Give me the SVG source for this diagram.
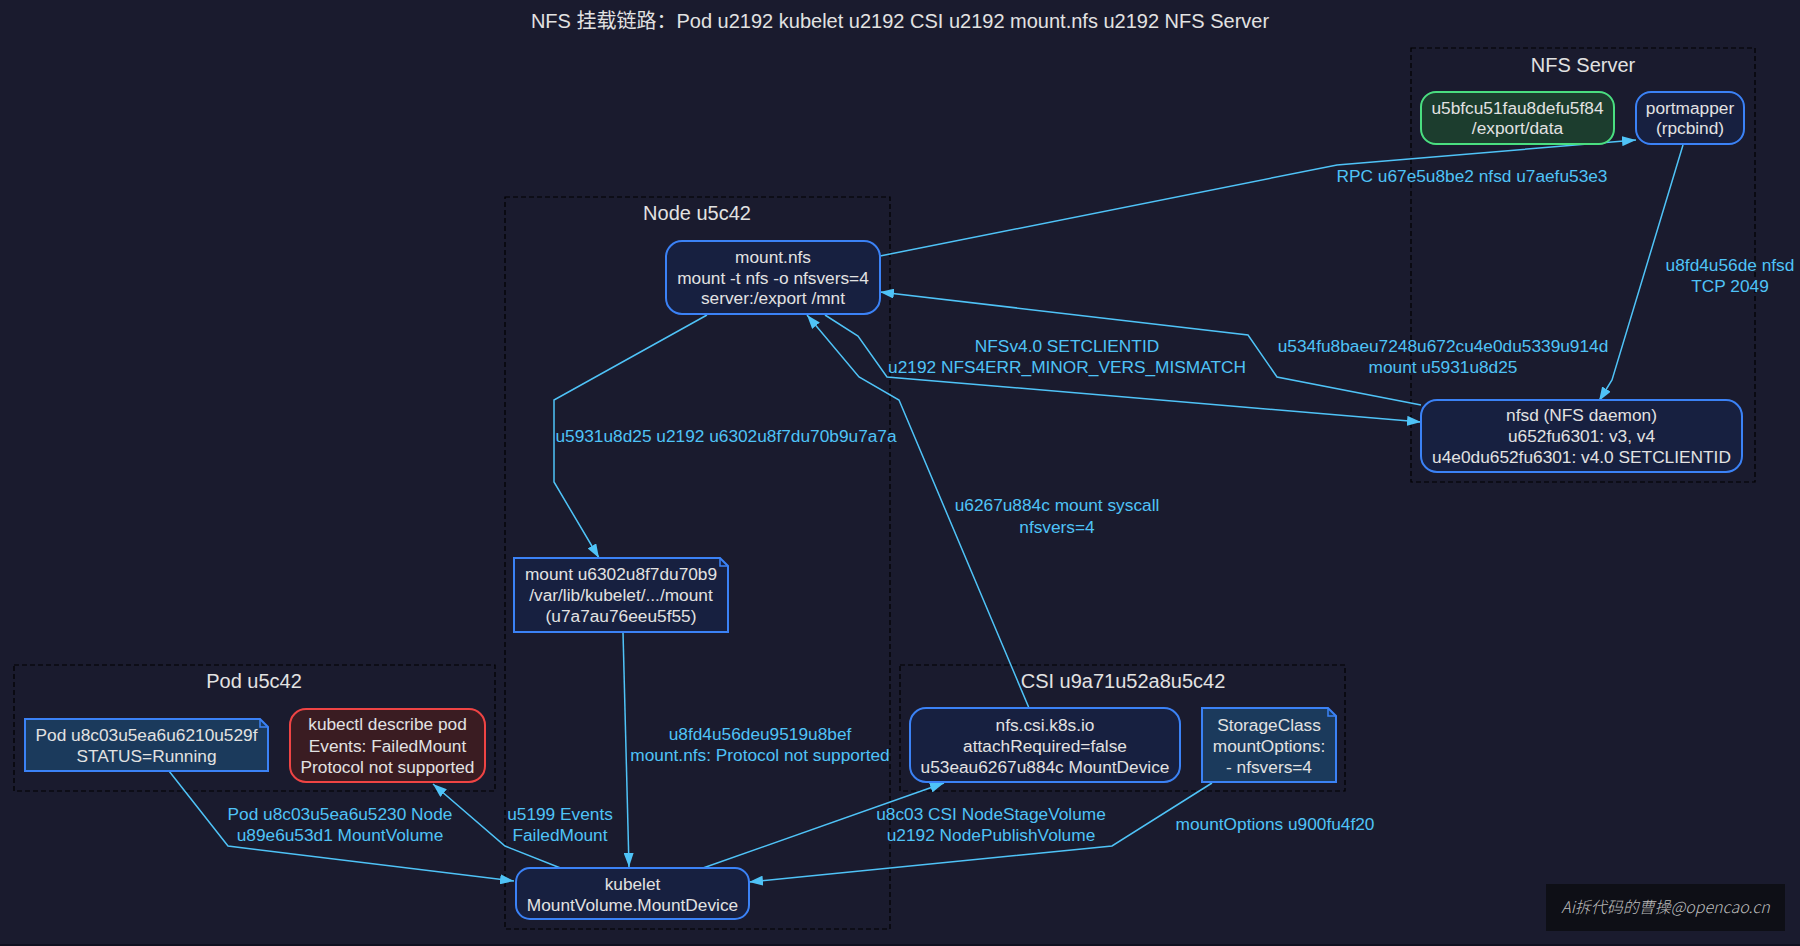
<svg xmlns="http://www.w3.org/2000/svg" width="1800" height="946" viewBox="0 0 1800 946">
<defs>
<marker id="arr" markerUnits="userSpaceOnUse" markerWidth="14" markerHeight="10" refX="14" refY="5" orient="auto">
<path d="M0,0 L14,5 L0,10 z" fill="#4fc3f7"/>
</marker>
<style>
.t{font-family:"Liberation Sans","Noto Sans CJK SC",sans-serif;font-size:17.3px;fill:#e2e2e2;text-anchor:middle}
.cl{font-family:"Liberation Sans","Noto Sans CJK SC",sans-serif;font-size:20px;fill:#e2e2e2;text-anchor:middle}
.el{font-family:"Liberation Sans","Noto Sans CJK SC",sans-serif;font-size:17.3px;fill:#4fc3f7;text-anchor:middle}
.cluster{fill:none;stroke:#000;stroke-width:1.2;stroke-dasharray:5,3}
.blue{fill:#172040;stroke:#3b82f6;stroke-width:2}
.note{fill:#1b3a5c;stroke:#3b82f6;stroke-width:2}
.notedk{fill:#172040;stroke:#3b82f6;stroke-width:2}
.fold{fill:none;stroke:#3b82f6;stroke-width:1.5}
.e{fill:none;stroke:#4fc3f7;stroke-width:1.5;marker-end:url(#arr)}
</style>
</defs>
<rect x="0" y="0" width="1800" height="946" fill="#1a1b2e"/>
<rect x="0" y="944" width="1800" height="2" fill="#0f1020"/>
<text x="900" y="28" class="cl">NFS 挂载链路：Pod u2192 kubelet u2192 CSI u2192 mount.nfs u2192 NFS Server</text>

<g id="cluster_nfs">
<rect x="1411" y="48" width="344" height="434" class="cluster"/>
<text x="1583" y="72" class="cl">NFS Server</text>
</g>
<g id="cluster_node">
<rect x="505" y="197" width="385" height="732" class="cluster"/>
<text x="697" y="220" class="cl">Node u5c42</text>
</g>
<g id="cluster_pod">
<rect x="14" y="665" width="481" height="126" class="cluster"/>
<text x="254" y="688" class="cl">Pod u5c42</text>
</g>
<g id="cluster_csi">
<rect x="900" y="665" width="445" height="126" class="cluster"/>
<text x="1123" y="688" class="cl">CSI u9a71u52a8u5c42</text>
</g>

<g id="connectors">
<path class="e" d="M169,771 L228,846 L514,881"/>
<path class="e" d="M563,869 L505,846 L433,784"/>
<path class="e" d="M707,315 L554,400 L554,482 L599,558"/>
<path class="e" d="M623,632 L629,867"/>
<path class="e" d="M703,868 L944,783"/>
<path class="e" d="M1212,783 L1112,846 L749,882"/>
<path class="e" d="M1029,708 L899,400 L859,377 L807,315"/>
<path class="e" d="M880,256 L1337,165 L1636,140"/>
<path class="e" d="M1683,145 L1612,380 L1599,401"/>
<path class="e" d="M825,315 L858,336 L887,377 L1421,422"/>
<path class="e" d="M1421,405 L1277,377 L1248,335 L880,292"/>
<text class="el" x="1472" y="182">RPC u67e5u8be2 nfsd u7aefu53e3</text>
<text class="el" x="1730" y="271">u8fd4u56de nfsd</text>
<text class="el" x="1730" y="292">TCP 2049</text>
<text class="el" x="1067" y="352">NFSv4.0 SETCLIENTID</text>
<text class="el" x="1067" y="373">u2192 NFS4ERR_MINOR_VERS_MISMATCH</text>
<text class="el" x="1443" y="352">u534fu8baeu7248u672cu4e0du5339u914d</text>
<text class="el" x="1443" y="373">mount u5931u8d25</text>
<text class="el" x="726" y="442">u5931u8d25 u2192 u6302u8f7du70b9u7a7a</text>
<text class="el" x="1057" y="511">u6267u884c mount syscall</text>
<text class="el" x="1057" y="533">nfsvers=4</text>
<text class="el" x="760" y="740">u8fd4u56deu9519u8bef</text>
<text class="el" x="760" y="761">mount.nfs: Protocol not supported</text>
<text class="el" x="340" y="820">Pod u8c03u5ea6u5230 Node</text>
<text class="el" x="340" y="841">u89e6u53d1 MountVolume</text>
<text class="el" x="560" y="820">u5199 Events</text>
<text class="el" x="560" y="841">FailedMount</text>
<text class="el" x="991" y="820">u8c03 CSI NodeStageVolume</text>
<text class="el" x="991" y="841">u2192 NodePublishVolume</text>
<text class="el" x="1275" y="830">mountOptions u900fu4f20</text>
</g>

<g id="export">
<rect x="1421" y="92" width="193" height="52" rx="15" fill="#1c3d2e" stroke="#4ade80" stroke-width="2"/>
<text class="t" x="1517.5" y="114">u5bfcu51fau8defu5f84</text>
<text class="t" x="1517.5" y="134">/export/data</text>
</g>
<g id="portmapper">
<rect x="1636" y="92" width="108" height="52" rx="15" class="blue"/>
<text class="t" x="1690" y="114">portmapper</text>
<text class="t" x="1690" y="134">(rpcbind)</text>
</g>
<g id="nfsd">
<rect x="1421" y="400" width="321" height="72" rx="16" class="blue"/>
<text class="t" x="1581.5" y="421">nfsd (NFS daemon)</text>
<text class="t" x="1581.5" y="442">u652fu6301: v3, v4</text>
<text class="t" x="1581.5" y="463">u4e0du652fu6301: v4.0 SETCLIENTID</text>
</g>
<g id="mountnfs">
<rect x="666" y="241" width="214" height="73" rx="16" class="blue"/>
<text class="t" x="773" y="263">mount.nfs</text>
<text class="t" x="773" y="284">mount -t nfs -o nfsvers=4</text>
<text class="t" x="773" y="304">server:/export /mnt</text>
</g>
<g id="mountpoint">
<path d="M514,558 H720 L728,566 V632 H514 Z" class="notedk"/>
<path d="M720,558 V566 H728" class="fold"/>
<text class="t" x="621" y="580">mount u6302u8f7du70b9</text>
<text class="t" x="621" y="601">/var/lib/kubelet/.../mount</text>
<text class="t" x="621" y="622">(u7a7au76eeu5f55)</text>
</g>
<g id="kubelet">
<rect x="516" y="868" width="233" height="51" rx="14" class="blue"/>
<text class="t" x="632.5" y="890">kubelet</text>
<text class="t" x="632.5" y="911">MountVolume.MountDevice</text>
</g>
<g id="podstatus">
<path d="M25,719 H260 L268,727 V771 H25 Z" class="note"/>
<path d="M260,719 V727 H268" class="fold"/>
<text class="t" x="146.5" y="741">Pod u8c03u5ea6u6210u529f</text>
<text class="t" x="146.5" y="762">STATUS=Running</text>
</g>
<g id="kubectl">
<rect x="290" y="709" width="195" height="73" rx="16" fill="#3a1c22" stroke="#ef4444" stroke-width="2"/>
<text class="t" x="387.5" y="730">kubectl describe pod</text>
<text class="t" x="387.5" y="752">Events: FailedMount</text>
<text class="t" x="387.5" y="773">Protocol not supported</text>
</g>
<g id="csidriver">
<rect x="910" y="708" width="270" height="74" rx="16" class="blue"/>
<text class="t" x="1045" y="731">nfs.csi.k8s.io</text>
<text class="t" x="1045" y="752">attachRequired=false</text>
<text class="t" x="1045" y="773">u53eau6267u884c MountDevice</text>
</g>
<g id="storageclass">
<path d="M1202,708 H1328 L1336,716 V782 H1202 Z" class="note"/>
<path d="M1328,708 V716 H1336" class="fold"/>
<text class="t" x="1269" y="731">StorageClass</text>
<text class="t" x="1269" y="752">mountOptions:</text>
<text class="t" x="1269" y="773">- nfsvers=4</text>
</g>
<g id="watermark">
<rect x="1546" y="884" width="239" height="47" fill="#0e0f16"/>
<text x="1665.5" y="913" font-family="'Noto Sans CJK SC',sans-serif" font-size="16" font-style="italic" font-weight="300" fill="#bdbdbd" text-anchor="middle">Ai拆代码的曹操@opencao.cn</text>
</g>
</svg>
